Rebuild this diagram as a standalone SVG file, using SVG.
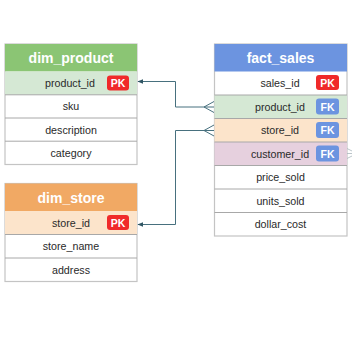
<svg xmlns="http://www.w3.org/2000/svg" width="352" height="352" viewBox="0 0 352 352">
  <defs>
    <style>
      .tbl { fill: #ffffff; stroke: #c4c4c4; stroke-width: 1.2; }
      .sep { stroke: #a8a8a8; stroke-width: 1; }
      .hdr { font-family: "Liberation Sans", Arial, sans-serif; font-size: 14px; font-weight: bold; fill: #ffffff; text-anchor: middle; }
      .col { font-family: "Liberation Sans", Arial, sans-serif; font-size: 10.7px; fill: #2a2a2a; text-anchor: middle; }
      .badge { font-family: "Liberation Sans", Arial, sans-serif; font-size: 10.5px; font-weight: bold; fill: #ffffff; text-anchor: middle; }
      .pk { fill: #f02a2a; }
      .fk { fill: #6c94e0; }
      .link { fill: none; stroke: #47707e; stroke-width: 1; }
      .stub { fill: none; stroke: #a9b6bd; stroke-width: 0.8; }
    </style>
    <marker id="arrow" viewBox="0 0 10 10" refX="9" refY="5" markerWidth="6" markerHeight="6" orient="auto">
      <path d="M0,1 L10,5 L0,9 Z" fill="#2f5563"/>
    </marker>
  </defs>

  <rect width="352" height="352" fill="#ffffff"/>

  <!-- dim_product table -->
  <g id="dim_product">
    <rect class="tbl" x="5" y="44" width="132" height="120.5"/>
    <rect x="5" y="44" width="132" height="27.5" fill="#8bc574"/>
    <rect x="5" y="71.5" width="132" height="23.3" fill="#d5e8d4"/>
    <line class="sep" x1="5" y1="94.8" x2="137" y2="94.8"/>
    <line class="sep" x1="5" y1="118" x2="137" y2="118"/>
    <line class="sep" x1="5" y1="141.2" x2="137" y2="141.2"/>
    <text class="hdr" x="71" y="63">dim_product</text>
    <text class="col" x="70" y="87">product_id</text>
    <rect class="pk" x="107" y="75.5" width="22" height="15" rx="3"/>
    <text class="badge" x="118" y="87">PK</text>
    <text class="col" x="71" y="110">sku</text>
    <text class="col" x="71" y="133.5">description</text>
    <text class="col" x="71" y="157">category</text>
  </g>

  <!-- dim_store table -->
  <g id="dim_store">
    <rect class="tbl" x="5" y="183.5" width="132" height="98"/>
    <rect x="5" y="183.5" width="132" height="27.5" fill="#f1a964"/>
    <rect x="5" y="211" width="132" height="23.5" fill="#fce4cb"/>
    <line class="sep" x1="5" y1="234.5" x2="137" y2="234.5"/>
    <line class="sep" x1="5" y1="258" x2="137" y2="258"/>
    <text class="hdr" x="71" y="202.5">dim_store</text>
    <text class="col" x="71" y="227">store_id</text>
    <rect class="pk" x="107" y="215" width="22" height="15" rx="3"/>
    <text class="badge" x="118" y="226.5">PK</text>
    <text class="col" x="71" y="250">store_name</text>
    <text class="col" x="71" y="273.5">address</text>
  </g>

  <!-- fact_sales table -->
  <g id="fact_sales">
    <rect class="tbl" x="214.5" y="44" width="132.5" height="192"/>
    <rect x="214.5" y="44" width="132.5" height="27.5" fill="#6c94e0"/>
    <rect x="214.5" y="95" width="132.5" height="23.5" fill="#d5e8d4"/>
    <rect x="214.5" y="118.5" width="132.5" height="23.5" fill="#fce4cb"/>
    <rect x="214.5" y="142" width="132.5" height="23.5" fill="#e6d0de"/>
    <line class="sep" x1="214.5" y1="95" x2="347" y2="95"/>
    <line class="sep" x1="214.5" y1="118.5" x2="347" y2="118.5"/>
    <line class="sep" x1="214.5" y1="142" x2="347" y2="142"/>
    <line class="sep" x1="214.5" y1="165.5" x2="347" y2="165.5"/>
    <line class="sep" x1="214.5" y1="189" x2="347" y2="189"/>
    <line class="sep" x1="214.5" y1="212.5" x2="347" y2="212.5"/>
    <text class="hdr" x="280.5" y="63">fact_sales</text>
    <text class="col" x="280" y="87">sales_id</text>
    <rect class="pk" x="316" y="75" width="23" height="15" rx="3"/>
    <text class="badge" x="327.5" y="86.5">PK</text>
    <text class="col" x="280" y="110.5">product_id</text>
    <rect class="fk" x="316" y="98.5" width="23" height="16" rx="3"/>
    <text class="badge" x="327.5" y="110.5">FK</text>
    <text class="col" x="280" y="134">store_id</text>
    <rect class="fk" x="316" y="122" width="23" height="16" rx="3"/>
    <text class="badge" x="327.5" y="134">FK</text>
    <text class="col" x="280" y="157.5">customer_id</text>
    <rect class="fk" x="316" y="145.5" width="23" height="16" rx="3"/>
    <text class="badge" x="327.5" y="157.5">FK</text>
    <text class="col" x="280.5" y="181">price_sold</text>
    <text class="col" x="280.5" y="204.5">units_sold</text>
    <text class="col" x="280.5" y="228">dollar_cost</text>
  </g>

  <!-- relationship lines -->
  <g id="connectors">
    <path class="link" d="M214,107 H175.5 V81.5 H138" marker-end="url(#arrow)"/>
    <path class="link" d="M204,107 L214,101.5 M204,107 L214,112.5"/>
    <path class="link" d="M214,130.5 H175.5 V224.5 H138" marker-end="url(#arrow)"/>
    <path class="link" d="M204,130.5 L214,125 M204,130.5 L214,136"/>
    <path class="stub" d="M347,153.5 H352 M357,153.5 L347,148.5 M357,153.5 L347,158.5"/>
  </g>
</svg>
